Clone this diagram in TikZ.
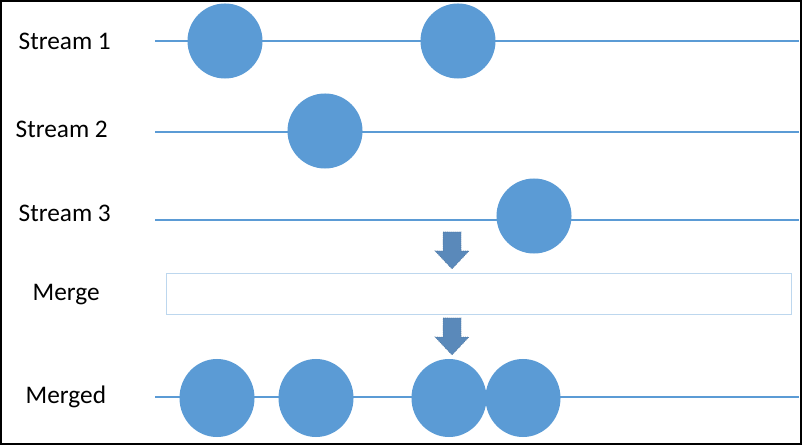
\documentclass[tikz,border=0pt]{standalone}
\usepackage{fontspec}
\setmainfont{Carlito}
\usetikzlibrary{positioning}
\usetikzlibrary{shapes.geometric}
\definecolor{dotblue}{HTML}{5B9BD5}
\definecolor{arrowblue}{HTML}{5A89BA}
\definecolor{boxblue}{HTML}{BDD7EE}
\tikzset{
        every node/.style={outer sep=0pt},
        label/.style={anchor=west,font=\fontsize{18}{20}\selectfont},
        event/.style={ellipse,fill=dotblue,minimum width=1.875cm,minimum height=1.875cm,inner sep=0pt},
        mevent/.style={event,minimum height=1.95cm},
        stream/.style={dotblue,line width=1pt},
        blockarrow/.style={fill=arrowblue,draw=arrowblue!80!black,densely dotted,line width=0.4pt},
        }

\begin{document}
\begin{tikzpicture}[x=0.025cm,y=-0.025cm]

			% frame.....................
			\useasboundingbox (0,0) rectangle (802,445);
			\draw [line width=1.4pt] (1,1) rectangle (801,444);

			% labels....................
			\node [label] (l1) at (14,41) {Stream 1};
			\node [label] (l2) at (11,129) {Stream 2};
			\node [label] (l3) at (14,213) {Stream 3};
			\node [label] (lm) at (28,295) {Merge};
			\node [label] (ld) at (21,397) {Merged};

			% stream lines..............
			\coordinate (a1) at (155,41);  \coordinate (b1) at (799,41);
			\coordinate (a2) at (155,132); \coordinate (b2) at (799,132);
			\coordinate (a3) at (155,220); \coordinate (b3) at (799,220);
			\coordinate (ad) at (155,397); \coordinate (bd) at (799,397);
			\draw [stream] (a1) -- (b1);
			\draw [stream] (a2) -- (b2);
			\draw [stream] (a3) -- (b3);
			\draw [stream] (ad) -- (bd);

			% events....................
			\node [event] (s1a) at (225,41) {};
			\node [event] (s1b) at (458,41) {};
			\node [event] (s2a) at (325,131) {};
			\node [event] (s3a) at (534,216) {};

			% merge box.................
			\node [draw=boxblue,line width=0.6pt,minimum width=15.6cm,minimum height=1.025cm,inner sep=0pt] (box) at (479,294) {};

			% arrows....................
			\foreach \y in {232,318}
				\fill [blockarrow] (443,\y) -- (461,\y) -- (461,\y+19) -- (469,\y+19)
					-- (452,\y+37) -- (435,\y+19) -- (443,\y+19) -- cycle;

			% merged events.............
			\node [mevent] (m1) at (217,398) {};
			\node [mevent] (m2) at (316,398) {};
			\node [mevent] (m3) at (449,398) {};
			\node [mevent] (m4) at (523,398) {};
		\end{tikzpicture}
\end{document}
